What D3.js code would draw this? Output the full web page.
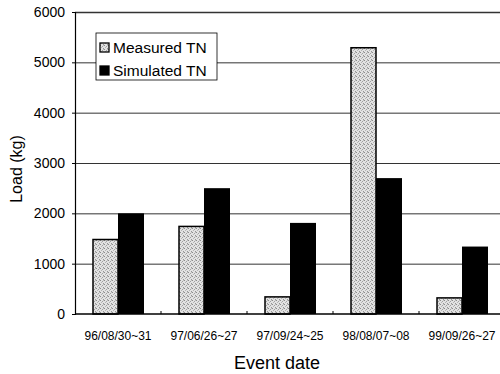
<!DOCTYPE html>
<html>
<head>
  <title>TN load</title>
  <style type="text/css">
    body { margin: 0; background: #fff; }
    svg { display: block; font-family: Arial, "Liberation Sans", sans-serif; }
  </style>
</head>
<body>
  <div id="chart"></div>
  <script type="text/javascript" src="https://cdn.jsdelivr.net/npm/d3@7"></script>
  <script type="text/javascript">
    var events = ["96/08/30~31", "97/06/26~27", "97/09/24~25", "98/08/07~08", "99/09/26~27"];
    var measured = [1480, 1740, 340, 5290, 320];
    var simulated = [2000, 2500, 1810, 2700, 1340];
    var yTicks = [0, 1000, 2000, 3000, 4000, 5000, 6000];
    var seriesNames = ["Measured TN", "Simulated TN"];

    // note: "top" is a reserved window property, so plain x0/x1/y0/y1
    var w = 500, h = 374,
      x0 = 75, x1 = 505, y0 = 314, y1 = 12;

    var svg = d3.select("#chart").append("svg")
      .attr("width", w)
      .attr("height", h);

    // stipple for the measured bars
    var pat = svg.append("defs").append("pattern")
      .attr("id", "dots")
      .attr("width", 4).attr("height", 4)
      .attr("patternUnits", "userSpaceOnUse");
    pat.append("rect").attr("width", 4).attr("height", 4).attr("fill", "#e2e2e2");
    [[0, 0, "#8c8c8c"], [2, 1, "#a0a0a0"], [1, 2, "#b4b4b4"], [3, 3, "#969696"], [3, 0, "#c0c0c0"]]
      .forEach(function (p) {
        pat.append("rect").attr("x", p[0]).attr("y", p[1])
          .attr("width", 1).attr("height", 1).attr("fill", p[2]);
      });

    var x = d3.scaleBand().domain(events).range([x0, x1]);
    var y = d3.scaleLinear().domain([0, 6000]).range([y0, y1]);
    var barW = 25;

    // grid
    svg.append("g").selectAll("line")
      .data(yTicks.filter(function (d) { return d > 0; }))
      .enter().append("line")
      .attr("x1", x0).attr("x2", x1)
      .attr("y1", function (d) { return y(d) + 0.5; })
      .attr("y2", function (d) { return y(d) + 0.5; })
      .attr("stroke", "#333")
      .attr("stroke-width", function (d) { return d == 6000 ? 1.6 : 1; });

    // bars
    var groups = svg.append("g").selectAll("g")
      .data(events)
      .enter().append("g");

    groups.append("rect")
      .attr("x", function (d) { return x(d) + x.bandwidth() / 2 - barW; })
      .attr("y", function (d, i) { return y(measured[i]); })
      .attr("width", barW)
      .attr("height", function (d, i) { return y0 - y(measured[i]); })
      .attr("fill", "url(#dots)")
      .attr("stroke", "#000")
      .attr("stroke-width", 1.5);

    groups.append("rect")
      .attr("x", function (d) { return x(d) + x.bandwidth() / 2; })
      .attr("y", function (d, i) { return y(simulated[i]); })
      .attr("width", barW + 1)
      .attr("height", function (d, i) { return y0 - y(simulated[i]); })
      .attr("fill", "#000");

    // axes
    var yAxis = svg.append("g")
      .attr("transform", "translate(" + x0 + ",0)")
      .call(d3.axisLeft(y).tickValues(yTicks).tickFormat(d3.format("d")).tickSize(3).tickPadding(7));
    yAxis.select(".domain").attr("stroke", "#000").attr("stroke-width", 1.2);
    yAxis.selectAll("text").attr("font-size", 14).attr("fill", "#000");

    var xAxis = svg.append("g")
      .attr("transform", "translate(0," + y0 + ")")
      .call(d3.axisBottom(x).tickSize(0).tickPadding(17));
    xAxis.select(".domain").remove();
    xAxis.selectAll("text").attr("font-size", 12).attr("fill", "#000");

    svg.append("line")
      .attr("x1", x0).attr("x2", x1)
      .attr("y1", y0).attr("y2", y0)
      .attr("stroke", "#000").attr("stroke-width", 1.5);

    // boundary ticks between groups
    svg.append("g").selectAll("line")
      .data(events.slice(1))
      .enter().append("line")
      .attr("x1", function (d) { return x(d); })
      .attr("x2", function (d) { return x(d); })
      .attr("y1", y0).attr("y2", y0 - 3)
      .attr("stroke", "#000");

    // titles
    svg.append("text")
      .attr("transform", "translate(22," + ((y0 + y1) / 2 + 6) + ") rotate(-90)")
      .attr("text-anchor", "middle")
      .attr("font-size", 16)
      .text("Load (kg)");

    svg.append("text")
      .attr("x", 277).attr("y", 369)
      .attr("text-anchor", "middle")
      .attr("font-size", 18)
      .text("Event date");

    // legend
    var lg = svg.append("g").attr("transform", "translate(96,33)");
    lg.append("rect")
      .attr("width", 121).attr("height", 47)
      .attr("fill", "#fff").attr("stroke", "#000").attr("stroke-width", 0.8);
    var item = lg.selectAll("g.item")
      .data(seriesNames)
      .enter().append("g")
      .attr("class", "item")
      .attr("transform", function (d, i) { return "translate(4," + (20 + i * 23) + ")"; });
    item.append("rect")
      .attr("x", 0).attr("y", -10)
      .attr("width", 9).attr("height", 9)
      .attr("fill", function (d, i) { return i == 0 ? "url(#dots)" : "#000"; })
      .attr("stroke", "#000").attr("stroke-width", 1.3);
    item.append("text")
      .attr("x", 13).attr("y", 0)
      .attr("font-size", 15.5)
      .text(function (d) { return d; });
  </script>
</body>
</html>
